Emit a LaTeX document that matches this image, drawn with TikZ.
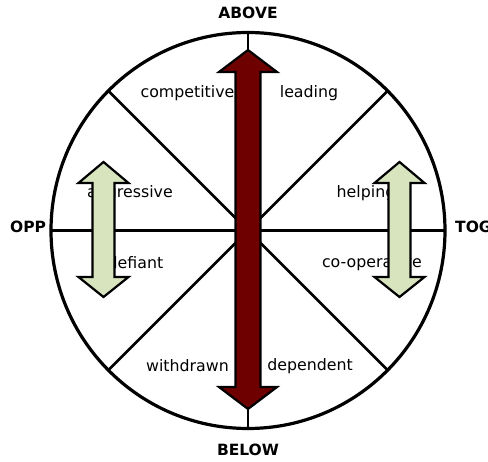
\documentclass[tikz,border=0pt]{standalone}
\usepackage{fontspec}
\setmainfont{DejaVu Sans}
\definecolor{darkred}{RGB}{110,0,0}
\definecolor{palegreen}{RGB}{215,228,190}
\begin{document}
\begin{tikzpicture}[x=1pt,y=-1pt,
  lbl/.style={font=\fontsize{15.8}{18}\selectfont, inner sep=0pt},
  axislbl/.style={font=\fontsize{15.5}{18}\selectfont\bfseries, inner sep=0pt},
  ring/.style={line width=3.2pt},
  spoke/.style={line width=2.8pt},
  bigarrow/.style={draw=black, line width=2.2pt, fill=darkred, line join=miter},
  smallarrow/.style={draw=black, line width=2.2pt, fill=palegreen, line join=miter}]
\useasboundingbox (0,0) rectangle (488,462);
\coordinate (c) at (248,230.5);
% spokes
\draw[spoke] (c) -- ++(-197,0) coordinate (w);
\draw[spoke] (c) -- ++(197,0) coordinate (e);
\draw[spoke] (c) -- ++(0,-198) coordinate (n);
\draw[spoke] (c) -- ++(0,198) coordinate (s);
\draw[spoke] (c) -- ++(-139.5,-139.5) coordinate (nw);
\draw[spoke] (c) -- ++(139.5,-139.5) coordinate (ne);
\draw[spoke] (c) -- ++(-139.5,139.5) coordinate (sw);
\draw[spoke] (c) -- ++(139.5,139.5) coordinate (se);
\draw[ring] (c) ellipse [x radius=197, y radius=198];
% sector labels
\node[lbl] (competitive) at (187.5,93) {competitive};
\node[lbl] (leading) at (309,93) {leading};
\node[lbl] (aggressive) at (130,193) {aggressive};
\node[lbl] (helping) at (366,193) {helping};
\node[lbl] (defiant) at (135.5,263) {defiant};
\node[lbl] (cooperative) at (372,263) {co-operative};
\node[lbl] (withdrawn) at (187.5,366) {withdrawn};
\node[lbl] (dependent) at (310,366) {dependent};
% axis labels
\node[axislbl] (above) at (248,13) {ABOVE};
\node[axislbl] (below) at (248,450) {BELOW};
\node[axislbl, anchor=west] (opp) at (10,227) {OPP};
\node[axislbl, anchor=west] (tog) at (455,227) {TOG};
% big arrow
\draw[bigarrow] (248,50) -- (277,72) -- (260.5,72) -- (260.5,387) -- (277,387)
  -- (248,409) -- (219,387) -- (235.5,387) -- (235.5,72) -- (219,72) -- cycle;
% green arrows
\foreach \cx in {103.5,399.5}{
  \draw[smallarrow] (\cx,162) -- ++(25,21) -- ++(-14,0) -- ++(0,94) -- ++(14,0)
    -- (\cx,297) -- ++(-25,-20) -- ++(14,0) -- ++(0,-94) -- ++(-14,0) -- cycle;
}
\end{tikzpicture}
\end{document}
